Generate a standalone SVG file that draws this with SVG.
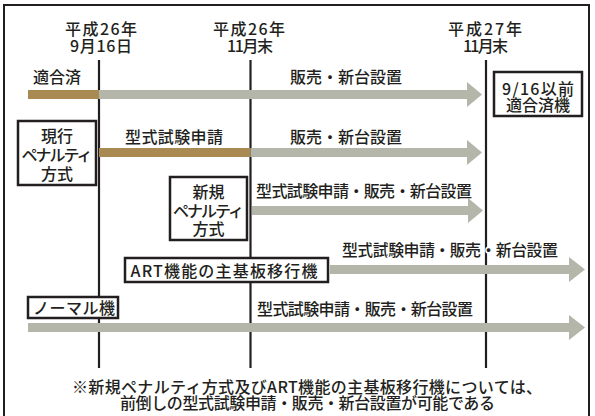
<svg xmlns="http://www.w3.org/2000/svg" width="595" height="416" viewBox="0 0 595 416">
<style>
text{font-family:"Noto Sans CJK JP","Noto Sans CJK SC",sans-serif;font-size:16px;font-weight:500;fill:#231f20}
.c{text-anchor:middle}
.box{fill:#fff;stroke:#231f20;stroke-width:2.5}
.gray{fill:#b4b6aa}
.brown{fill:#a98a52}
.vline{stroke:#231f20;stroke-width:2.2}
.halo{stroke:#fff;stroke-width:3;paint-order:stroke}
</style>
<rect x="0" y="0" width="595" height="416" fill="#fff"/>
<rect x="4" y="5" width="585" height="420" fill="none" stroke="#231f20" stroke-width="2"/>
<g id="timeline">
<line class="vline" x1="99" y1="60" x2="99" y2="368"/>
<line class="vline" x1="250.5" y1="60" x2="250.5" y2="368"/>
<line class="vline" x1="486" y1="60" x2="486" y2="368"/>
<text class="c" x="101" y="35" textLength="72">平成26年</text>
<text class="c" x="101" y="52" textLength="62">9月16日</text>
<text class="c" x="249" y="35" textLength="72">平成26年</text>
<text class="c" x="250" y="52" textLength="46">11月末</text>
<text class="c" x="485" y="35" textLength="74">平成27年</text>
<text class="c" x="485.5" y="52" textLength="45">11月末</text>
</g>
<g id="connectors">
<rect class="brown" x="28" y="90" width="71" height="9"/>
<polygon class="gray" points="99,90 467,90 467,82 482,94.5 467,107 467,99 99,99"/>
<rect class="brown" x="99" y="148" width="151.5" height="9"/>
<polygon class="gray" points="250.5,148 467,148 467,140 482,152.5 467,165 467,157 250.5,157"/>
<polygon class="gray" points="252,206 468,206 468,198 483,210.5 468,223 468,215 252,215"/>
<polygon class="gray" points="330,265 569,265 569,257 585,269.5 569,282 569,274 330,274"/>
<polygon class="gray" points="28,323 569,323 569,315 585,327.5 569,340 569,332 28,332"/>
<text x="33" y="83">適合済</text>
<text x="290" y="83" textLength="112">販売・新台設置</text>
<text class="c" x="174" y="143" textLength="98">型式試験申請</text>
<text x="290" y="143" textLength="112">販売・新台設置</text>
<text x="256" y="197" textLength="216">型式試験申請・販売・新台設置</text>
<text class="halo" x="342" y="256" textLength="216">型式試験申請・販売・新台設置</text>
<text x="257" y="315" textLength="216">型式試験申請・販売・新台設置</text>
</g>
<g id="node-tekigo">
<rect class="box" x="494" y="72" width="88" height="44"/>
<text class="c" x="538" y="95" textLength="72">9/16以前</text>
<text class="c" x="538" y="111">適合済機</text>
</g>
<g id="node-genko">
<rect class="box" x="18" y="121" width="78" height="64"/>
<text class="c" x="57" y="142">現行</text>
<text class="c" x="57" y="161" textLength="71">ペナルティ</text>
<text class="c" x="57" y="180">方式</text>
</g>
<g id="node-shinki">
<rect class="box" x="170" y="177" width="77" height="63"/>
<text class="c" x="208.5" y="198">新規</text>
<text class="c" x="208.5" y="217" textLength="71">ペナルティ</text>
<text class="c" x="208.5" y="235">方式</text>
</g>
<g id="node-art">
<rect class="box" x="125" y="258" width="203" height="24"/>
<text class="c" x="224" y="277" textLength="187">ART機能の主基板移行機</text>
</g>
<g id="node-normal">
<rect class="box" x="28" y="297" width="90" height="21"/>
<text class="c" x="74" y="314" textLength="82">ノーマル機</text>
</g>
<g id="note">
<text class="c" x="307" y="393" textLength="470">※新規ペナルティ方式及びART機能の主基板移行機については、</text>
<text class="c" x="307.5" y="409" textLength="375">前倒しの型式試験申請・販売・新台設置が可能である</text>
</g>
</svg>
